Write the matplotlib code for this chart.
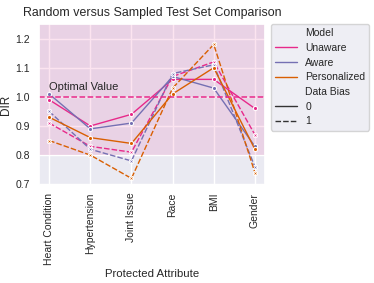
import matplotlib
matplotlib.use("Agg")
import matplotlib.pyplot as plt
import seaborn as sns
import pandas as pd

attributes = ["Heart Condition", "Hypertension", "Joint Issue", "Race", "BMI", "Gender"]
models = ["Unaware", "Aware", "Personalized"]
unaware_0 = [0.99, 0.90, 0.94, 1.06, 1.06, 0.96]
aware_0 = [1.01, 0.89, 0.91, 1.07, 1.03, 0.83]
personalized_0 = [0.93, 0.86, 0.84, 1.01, 1.10, 0.82]
unaware_1 = [0.91, 0.83, 0.81, 1.07, 1.12, 0.87]
aware_1 = [0.95, 0.82, 0.78, 1.08, 1.11, 0.76]
personalized_1 = [0.85, 0.80, 0.72, 1.03, 1.18, 0.74]

series = {
    ("Unaware", 0): unaware_0, ("Aware", 0): aware_0, ("Personalized", 0): personalized_0,
    ("Unaware", 1): unaware_1, ("Aware", 1): aware_1, ("Personalized", 1): personalized_1,
}
rows = []
for (model, bias), vals in series.items():
    for attr, v in zip(attributes, vals):
        rows.append({"Protected Attribute": attr, "DIR": v, "Model": model, "Data Bias": bias})
df = pd.DataFrame(rows)

sns.set_theme(style="darkgrid")
plt.rcParams['font.family'] = ['Liberation Sans', 'DejaVu Sans']

fig, ax = plt.subplots(figsize=(3.74, 2.83), dpi=100)
palette = {"Unaware": "#e7298a", "Aware": "#7570b3", "Personalized": "#d95f02"}
sns.lineplot(data=df, x="Protected Attribute", y="DIR", hue="Model", style="Data Bias",
             markers=True, palette=palette, hue_order=models, ax=ax,
             linewidth=1.0, markersize=3, sort=False)

ax.axhspan(0.8, 1.25, color="#e7298a", alpha=0.12, lw=0)
ax.axhline(1.0, color="#e7298a", linestyle="--", linewidth=1.1)
ax.text(0.0, 1.015, "Optimal Value", fontsize=8, ha="left", va="bottom")

ax.set_ylim(0.697, 1.25)
ax.set_yticks([0.7, 0.8, 0.9, 1.0, 1.1, 1.2])
ax.tick_params(axis="y", labelsize=7.5, length=0, pad=6.5)
ax.tick_params(axis="x", labelsize=7.5, length=0, pad=5.5)
plt.setp(ax.get_xticklabels(), rotation=90)
ax.set_xlabel("Protected Attribute", fontsize=8.2, labelpad=3)
ax.set_ylabel("DIR", fontsize=8.5, labelpad=2)
ax.set_title("Random versus Sampled Test Set Comparison", fontsize=8.9, pad=6)

handles, labels = ax.get_legend_handles_labels()
for h in handles:
    h.set_marker("")
ax.legend(handles, labels, bbox_to_anchor=(1.025, 1.0), loc="upper left", fontsize=7.5,
          borderaxespad=0, handlelength=2.1, handletextpad=0.8, labelspacing=0.45)

fig.subplots_adjust(left=0.104, right=0.709, top=0.915, bottom=0.346)
fig.savefig("out.png", dpi=100)
